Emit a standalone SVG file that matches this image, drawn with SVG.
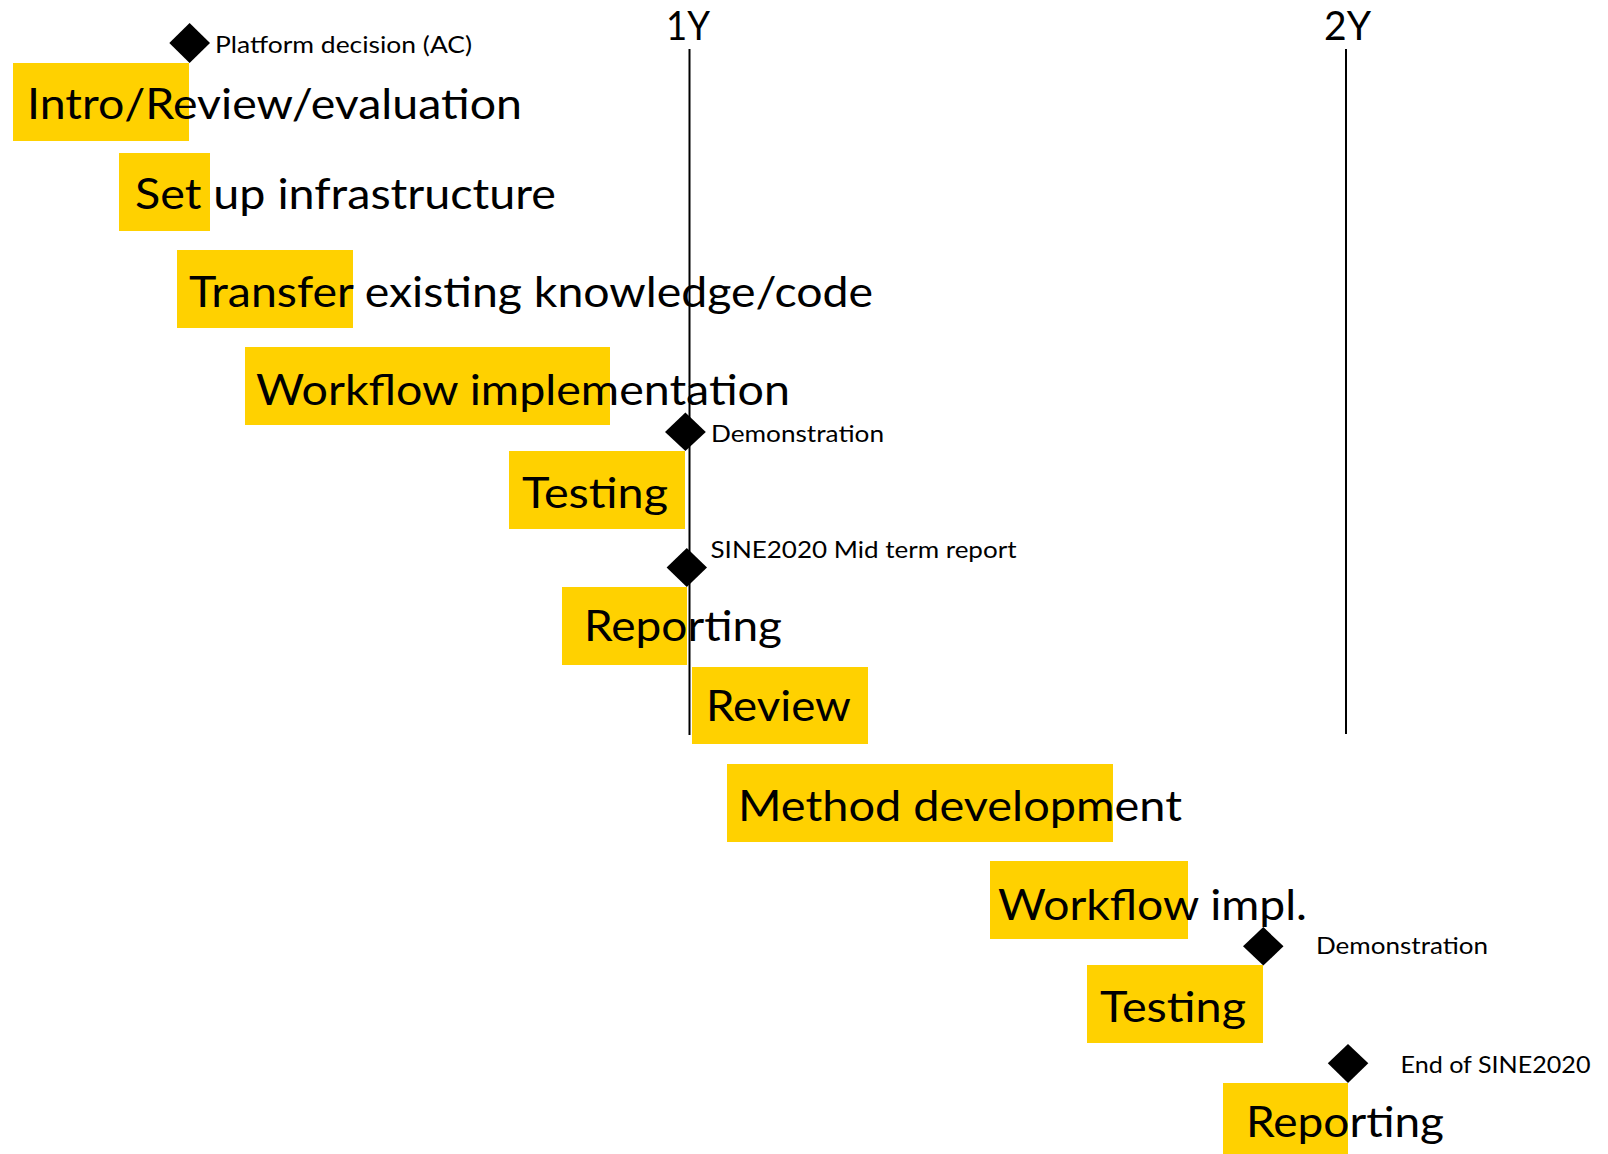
<svg xmlns="http://www.w3.org/2000/svg" width="1608" height="1154" viewBox="0 0 1608 1154">
<style>
.bar{fill:#FFD100}
.big{font-family:Lato,"Open Sans","Liberation Sans",sans-serif;font-size:43px;fill:#000}
.small{font-family:Lato,"Open Sans","Liberation Sans",sans-serif;font-size:23px;fill:#000}
.yr{font-family:Lato,"Open Sans","Liberation Sans",sans-serif;font-size:40px;fill:#000}
.ms{fill:#000}
.axis{stroke:#000;stroke-width:2;fill:none}
</style>
<rect width="1608" height="1154" fill="#fff"/>
<g id="task-intro">
<rect class="bar" x="13" y="63" width="176" height="78"/>
<text class="big" x="27" y="119" textLength="495" lengthAdjust="spacingAndGlyphs">Intro/Review/evaluation</text>
</g>
<g id="task-setup">
<rect class="bar" x="119" y="153" width="91" height="78"/>
<text class="big" x="135" y="209" textLength="421" lengthAdjust="spacingAndGlyphs">Set up infrastructure</text>
</g>
<g id="task-transfer">
<rect class="bar" x="177" y="250" width="176" height="78"/>
<text class="big" x="189" y="307" textLength="684" lengthAdjust="spacingAndGlyphs">Transfer existing knowledge/code</text>
</g>
<g id="task-workflow">
<rect class="bar" x="245" y="347" width="365" height="78"/>
<text class="big" x="256" y="405" textLength="534" lengthAdjust="spacingAndGlyphs">Workflow implementation</text>
</g>
<g id="task-testing">
<rect class="bar" x="509" y="451" width="176" height="78"/>
<text class="big" x="522" y="508" textLength="146" lengthAdjust="spacingAndGlyphs">Testing</text>
</g>
<g id="task-reporting">
<rect class="bar" x="562" y="587" width="125" height="78"/>
<text class="big" x="584" y="641" textLength="198" lengthAdjust="spacingAndGlyphs">Reporting</text>
</g>
<g id="task-review">
<rect class="bar" x="692" y="667" width="176" height="77"/>
<text class="big" x="706" y="721" textLength="145" lengthAdjust="spacingAndGlyphs">Review</text>
</g>
<g id="task-method">
<rect class="bar" x="727" y="764" width="386" height="78"/>
<text class="big" x="738" y="821" textLength="444" lengthAdjust="spacingAndGlyphs">Method development</text>
</g>
<g id="task-workflow2">
<rect class="bar" x="990" y="861" width="198" height="78"/>
<text class="big" x="998" y="920" textLength="309" lengthAdjust="spacingAndGlyphs">Workflow impl.</text>
</g>
<g id="task-testing2">
<rect class="bar" x="1087" y="965" width="176" height="78"/>
<text class="big" x="1100" y="1022" textLength="146" lengthAdjust="spacingAndGlyphs">Testing</text>
</g>
<g id="task-reporting2">
<rect class="bar" x="1223" y="1083" width="125" height="71"/>
<text class="big" x="1246" y="1137" textLength="198" lengthAdjust="spacingAndGlyphs">Reporting</text>
</g>
<g id="milestone-platform">
<polygon class="ms" points="189.6,23 210,43 189.6,63 169.3,43"/>
<text class="small" x="215" y="53" textLength="257" lengthAdjust="spacingAndGlyphs">Platform decision (AC)</text>
</g>
<g id="milestone-demo1">
<polygon class="ms" points="685.4,412.5 705.8,432 685.4,451 665,432"/>
<text class="small" x="711" y="442" textLength="173" lengthAdjust="spacingAndGlyphs">Demonstration</text>
</g>
<g id="milestone-midterm">
<polygon class="ms" points="686.8,548 707,567.5 686.8,587 666.6,567.5"/>
<text class="small" x="710.5" y="558" textLength="306" lengthAdjust="spacingAndGlyphs">SINE2020 Mid term report</text>
</g>
<g id="milestone-demo2">
<polygon class="ms" points="1263.3,927 1283.5,946.3 1263.3,965.5 1243,946.3"/>
<text class="small" x="1316" y="954" textLength="172" lengthAdjust="spacingAndGlyphs">Demonstration</text>
</g>
<g id="milestone-end">
<polygon class="ms" points="1348,1044 1368.3,1063.3 1348,1083 1327.8,1063.3"/>
<text class="small" x="1400.5" y="1073" textLength="190" lengthAdjust="spacingAndGlyphs">End of SINE2020</text>
</g>
<g id="year-1">
<text class="yr" x="666" y="40" textLength="44" lengthAdjust="spacingAndGlyphs">1Y</text>
</g>
<g id="year-2">
<text class="yr" x="1324" y="40" textLength="47" lengthAdjust="spacingAndGlyphs">2Y</text>
</g>
<g id="connectors">
<line class="axis" x1="689.5" y1="49" x2="689.5" y2="735"/>
<line class="axis" x1="1346" y1="49" x2="1346" y2="734"/>
</g>
</svg>
